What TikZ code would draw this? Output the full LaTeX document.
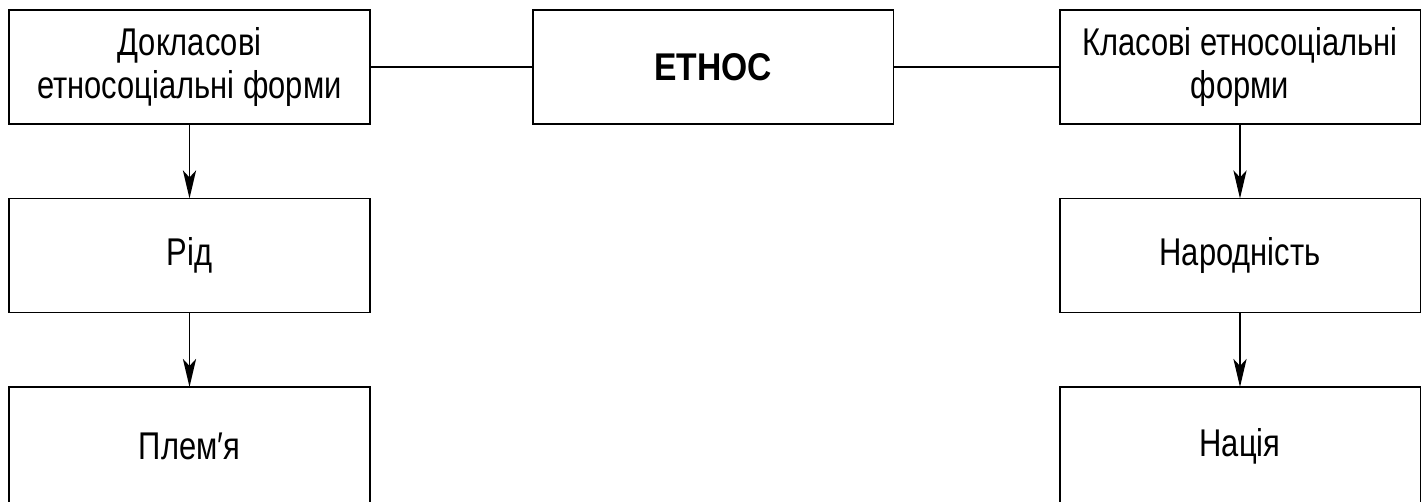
\documentclass[tikz,border=0pt]{standalone}
\usepackage{fontspec}
\setmainfont{Liberation Sans}[FakeStretch=0.8, BoldFeatures={FakeStretch=0.87}]
\usetikzlibrary{arrows.meta}
\begin{document}
\begin{tikzpicture}[x=0.02cm,y=-0.02cm,
  box/.style={draw, line width=1.1pt, inner sep=0pt, outer sep=0pt, align=center,
    font=\fontsize{22}{24}\selectfont, minimum width=7.22cm, minimum height=2.28cm},
  link/.style={line width=0.9pt},
  arr/.style={line width=1pt, -{Stealth[length=16pt,width=7.5pt,inset=4pt]}}]
\useasboundingbox (0,0) rectangle (1428,502);
\node[box] (a) at (189.5,67) {Докласові\\етносоціальні форми};
\node[box] (e) at (713,67) {\textbf{ЕТНОС}};
\node[box] (c) at (1240,67) {Класові етносоціальні\\форми};
\node[box] (rid) at (189.5,255.5) {Рід};
\node[box] (nar) at (1240,255.5) {Народність};
\node[box, minimum height=2.38cm] (ple) at (189.5,446.5) {Плем′я};
\node[box, minimum height=2.38cm] (nac) at (1240,446.5) {Нація};
\draw[link] (a.east) -- (e.west);
\draw[link] (e.east) -- (c.west);
\draw[arr] (a.south) -- (rid.north);
\draw[arr] (rid.south) -- (ple.north);
\draw[arr] (c.south) -- (nar.north);
\draw[arr] (nar.south) -- (nac.north);
\end{tikzpicture}
\end{document}
